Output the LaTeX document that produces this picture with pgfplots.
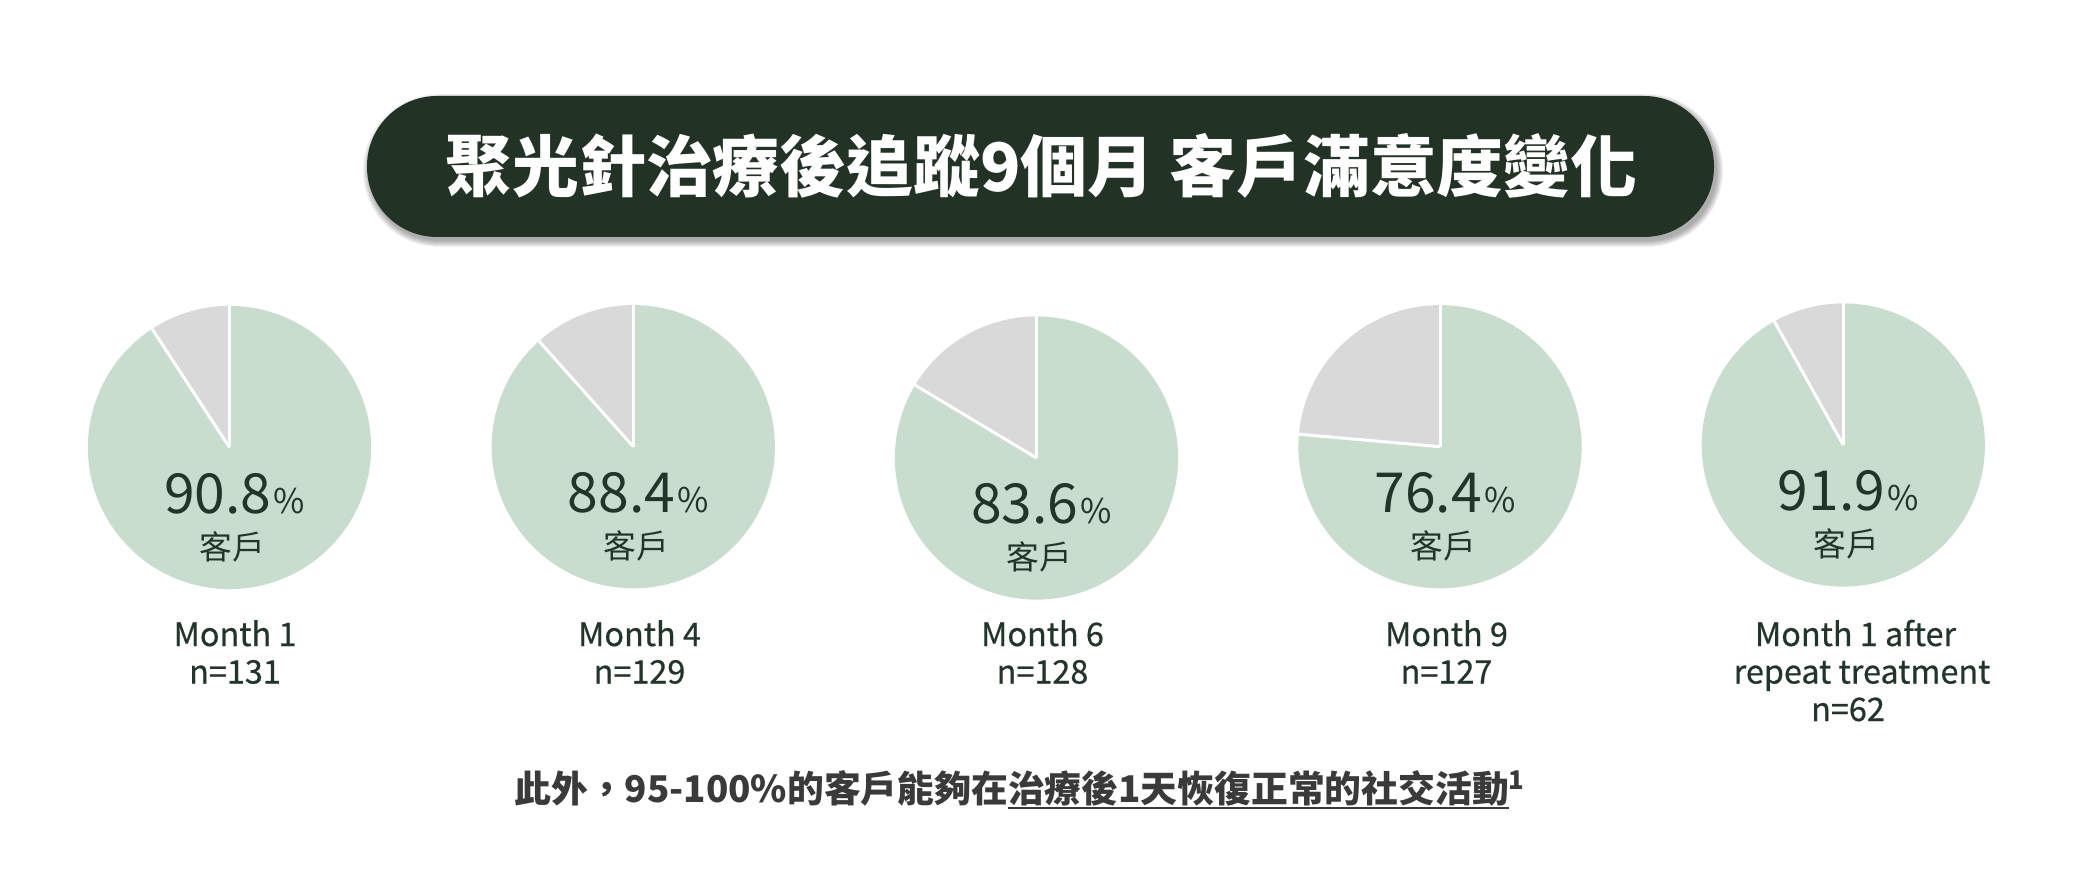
\documentclass[border=0pt]{standalone}
\usepackage{fontspec}
\setmainfont{Noto Sans CJK TC}
\newfontfamily\labfont[FakeBold=0.5]{Noto Sans CJK TC}
\usepackage{pgfplots}
\pgfplotsset{compat=1.18}
\usepackage{pgfplotstable}

\definecolor{titlebg}{HTML}{223325}
\definecolor{piegreen}{HTML}{C9DDCF}
\definecolor{piegray}{HTML}{D9D9D9}
\definecolor{txtgreen}{HTML}{22352A}
\definecolor{txtgray}{HTML}{3A3A3A}

% satisfaction share (%), sample size, pie centre (px)
\pgfplotstableread{
idx pct n cx cy
0 90.8 131 229.5 447.5
1 88.4 129 633.3 446.7
2 83.6 128 1036.5 458.0
3 76.4 127 1440.0 446.7
4 91.9 62 1843.3 445.0
}\piedata

\newcommand\ulbar[1]{\setbox0\hbox{#1}\rlap{\rule[-3.5pt]{\wd0}{1.25pt}}\box0}
\tikzset{lab/.style={anchor=base, inner sep=0pt, text=txtgreen, font=\labfont\fontsize{16.2}{18}\selectfont}}

\begin{document}
\begin{tikzpicture}
\begin{axis}[
  width=1041.5pt, height=443.5pt, scale only axis,
  xmin=0, xmax=2083, ymin=0, ymax=887, y dir=reverse,
  hide axis, clip=false,
]
\path[fill=white] (axis cs:0,0) rectangle (axis cs:2083,887);

% title shadow
\pgfplotsinvokeforeach{0,...,6}{
  \fill[black, opacity=0.05, rounded corners={35pt+#1*0.5pt}]
    (axis cs:{369-#1},{100-#1}) rectangle (axis cs:{1717+#1},{241+#1});
}
% title box
\fill[titlebg, rounded corners=35pt] (axis cs:367,96) rectangle (axis cs:1714,237);
\node[text=white, font=\fontsize{33.4}{38}\selectfont\bfseries, inner sep=0pt]
  at (axis cs:1041.5,166) {聚光針治療後追蹤9個月 客戶滿意度變化};

% pies
\pgfplotsinvokeforeach{0,...,4}{
  \pgfplotstablegetelem{#1}{pct}\of\piedata \let\pp\pgfplotsretval
  \pgfplotstablegetelem{#1}{cx}\of\piedata \let\pcx\pgfplotsretval
  \pgfplotstablegetelem{#1}{cy}\of\piedata \let\pcy\pgfplotsretval
  \pgfmathsetmacro\ang{90-3.6*\pp}
  \pgfmathsetmacro\nx{\pcx+5}
  \pgfmathsetmacro\ny{\pcy+65.5}
  \pgfmathsetmacro\kx{\pcx+3}
  \pgfmathsetmacro\ky{\pcy+99}
  \edef\doit{%
    \noexpand\fill[piegreen] (axis cs:\pcx,\pcy) -- ++(90:70.8pt) arc[start angle=90, end angle=\ang, radius=70.8pt] -- cycle;
    \noexpand\fill[piegray] (axis cs:\pcx,\pcy) -- ++(\ang:70.8pt) arc[start angle=\ang, end angle=-270, radius=70.8pt] -- cycle;
    \noexpand\draw[white, line width=1.5pt] (axis cs:\pcx,\pcy) -- ++(90:70.8pt);
    \noexpand\draw[white, line width=1.5pt] (axis cs:\pcx,\pcy) -- ++(\ang:70.8pt);
    \noexpand\node[anchor=base, inner sep=0pt, text=txtgreen] at (axis cs:\nx,\ny)
      {\noexpand\fontsize{27.6}{30}\noexpand\selectfont \pp\noexpand\hspace{1.2pt}\noexpand\fontsize{17}{20}\noexpand\selectfont\noexpand\%};
    \noexpand\node[anchor=center, inner sep=0pt, text=txtgreen, font=\noexpand\fontsize{16.4}{18}\noexpand\selectfont] at (axis cs:\kx,\ky) {客戶};
  }\doit
}

% category labels
\node[lab] at (axis cs:235,646) {Month 1};
\node[lab] at (axis cs:235,683.5) {n=131};
\node[lab] at (axis cs:639.5,646) {Month 4};
\node[lab] at (axis cs:639.5,683.5) {n=129};
\node[lab] at (axis cs:1042.5,646) {Month 6};
\node[lab] at (axis cs:1042.5,683.5) {n=128};
\node[lab] at (axis cs:1446.5,646) {Month 9};
\node[lab] at (axis cs:1446.5,683.5) {n=127};
\node[lab] at (axis cs:1855.5,646) {Month 1 after};
\node[lab] at (axis cs:1862,683.5) {repeat treatment};
\node[lab] at (axis cs:1848,721) {n=62};

% footnote line
\node[anchor=base, inner sep=0pt, text=txtgray, font=\fontsize{18.4}{22}\selectfont\bfseries]
  at (axis cs:1020,802) {此外，95-100\%的客戶能夠在\ulbar{治療後1天恢復正常的社交活動}\textsuperscript{1}};
\end{axis}
\end{tikzpicture}
\end{document}
